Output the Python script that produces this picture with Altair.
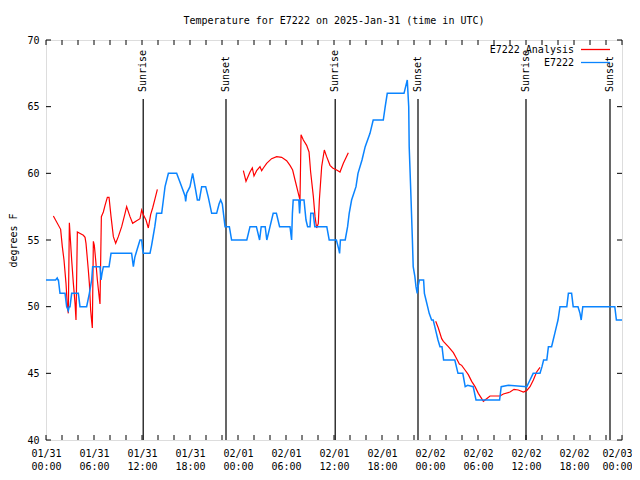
import altair as alt
import pandas as pd

# ---- data ----
blue_h = [0.0, 1.2, 1.4, 1.5, 1.55, 1.75, 2.38, 2.58, 2.79, 2.9, 3.0, 3.21, 4.04, 4.25, 5.08, 5.42, 5.71, 5.83,
          6.75, 6.88, 7.0, 7.17, 7.88, 8.13, 10.7, 10.92, 11.1, 11.4, 11.75, 11.96, 12.08, 12.17, 13.0, 13.2,
          13.4, 13.6, 13.83, 14.46, 14.67, 14.88, 15.3, 16.33, 16.96, 17.38, 17.46, 17.58, 18.0, 18.33, 18.63,
          18.92, 19.17, 19.46, 19.96, 20.29, 20.71, 21.33, 21.63, 21.83, 22.04, 22.38, 22.92, 23.2,
          25.1, 25.3, 25.5, 26.3, 26.7, 26.9, 27.4, 27.6, 28.0, 28.4, 28.8, 29.2, 30.5, 30.7, 30.8, 30.9, 31.6,
          31.7, 31.8, 32.25, 32.5, 32.7, 33.0, 33.1, 33.4, 33.6, 35.1, 35.4, 36.3, 36.6, 36.7, 36.8, 37.4, 37.7,
          37.9, 38.2, 38.75, 39.0, 39.5, 39.9, 40.5, 40.9, 42.16, 42.4, 42.66, 44.75, 45.16, 45.34, 45.4, 45.6,
          45.8, 45.9, 46.1, 46.25, 46.4, 46.5, 46.67, 47.2, 47.3, 47.5, 47.7, 47.9, 48.2, 48.4, 48.6, 48.8,
          49.0, 49.25, 49.5, 49.7, 51.1, 51.5, 52.1, 52.4, 52.7, 53.4, 53.75, 56.7, 56.9, 57.8, 60.1, 60.5,
          60.9, 61.75, 62.0, 62.2, 62.6, 62.8, 63.2, 63.4, 63.6, 63.8, 64.0, 64.25, 65.1, 65.3, 65.7, 65.9,
          66.5, 66.75, 66.9, 67.1, 71.1, 71.3, 72.0]
blue_t = [52, 52, 52.15, 52, 52, 51, 51, 50, 49.7, 50, 50, 51, 51, 50, 50, 51, 52, 53,
          53, 52, 52.5, 53, 53, 54, 54, 53, 53.7, 54.3, 55, 55, 54.3, 54, 54, 54.6,
          55.3, 56, 57, 57, 58, 59, 60, 60, 59, 58.3, 57.9, 58.5, 59, 60, 59,
          58, 58, 59, 59, 58.2, 57, 57, 57.7, 58, 57.7, 56, 56, 55,
          55, 55.5, 56, 56, 55, 56, 56, 55, 56, 57, 57, 56, 56, 55, 57, 58, 58,
          57, 58, 58, 56.5, 56, 56, 57, 57, 56, 56, 55, 55, 54.3, 54, 55, 55, 56,
          57, 58, 59, 60, 61, 62, 63, 64, 64, 65, 66, 66, 67, 65, 62, 58.6,
          55, 53, 52.3, 51.5, 51, 51.5, 52, 52, 51, 50.5, 50, 49.5, 49, 49, 48.5, 48,
          47.5, 47, 47, 46, 46, 45, 45, 44, 44.1, 44, 43, 43, 44, 44.1, 44, 44.5,
          45, 45, 45.5, 46, 46, 47, 47, 47.5, 48, 48.5, 49, 50, 50, 51, 51, 50,
          50, 49.5, 49, 50, 50, 49, 49]

red_h = [0.92, 1.83, 2.04, 2.25, 2.5, 2.67, 2.79, 2.92, 3.21, 3.42, 3.63, 3.75, 3.92, 4.67, 4.88, 5.0,
         5.29, 5.42, 5.58, 5.71, 5.79, 5.92, 6.04, 6.21, 6.42, 6.67, 6.75, 6.92, 7.17, 7.38, 7.67, 7.88,
         8.13, 8.42, 8.71, 9.04, 9.46, 9.88, 10.08, 10.5, 10.83, 11.33, 11.75, 11.96, 12.17, 12.5, 12.79,
         13.08, 13.33, 13.63, 13.92,
         24.67, 25.0, 25.5, 25.79, 26.0, 26.33, 26.75, 26.96, 27.17, 27.58, 28.2, 28.83, 29.46, 30.08, 30.5,
         30.83, 31.13, 31.54, 31.75, 31.88, 32.17, 32.58, 32.88, 33.08, 33.42, 33.63, 33.83, 34.04, 34.17,
         34.46, 34.79, 35.08, 35.5, 35.83, 36.33, 36.75, 37.17, 37.79,
         48.71, 49.04, 49.46, 49.67, 50.29, 50.92, 51.33, 51.67, 51.96, 52.38, 52.79, 53.21, 53.63, 54.04,
         54.46, 54.67, 55.08, 55.5, 56.75, 57.17, 58.0, 58.5, 59.04, 59.67, 60.08, 60.5, 60.92, 61.33, 61.75]
red_t = [56.8, 55.8, 54.5, 53.5, 51.75, 50.0, 49.5, 56.3, 53.5, 51.75, 50.25, 49.0, 55.6, 55.35, 55.2, 54.75,
         52.75, 51.75, 49.75, 48.9, 48.4, 54.9, 54.6, 53.5, 52.0, 50.6, 50.2, 56.75, 57.1, 57.6, 58.2, 58.2,
         56.75, 55.25, 54.75, 55.25, 56.0, 57.0, 57.5, 56.75, 56.25, 56.45, 56.6, 57.25, 56.9, 56.5, 55.9,
         56.9, 57.4, 58.1, 58.8,
         60.2, 59.4, 60.1, 60.4, 59.8, 60.2, 60.5, 60.2, 60.4, 60.75, 61.1, 61.25, 61.2, 60.95, 60.6,
         60.25, 59.5, 58.5, 58.0, 62.9, 62.5, 62.1, 61.6, 60.1, 58.25, 56.75, 55.9, 56.25, 58.0,
         60.5, 61.75, 61.25, 60.6, 60.4, 60.25, 60.1, 60.75, 61.55,
         48.9, 48.4, 47.6, 47.4, 47.0, 46.55, 46.1, 45.7, 45.6, 45.25, 44.9, 44.4, 44.0, 43.5,
         43.1, 42.9, 43.1, 43.3, 43.3, 43.45, 43.6, 43.8, 43.75, 43.6, 43.7, 44.0, 44.5, 45.1, 45.45]
red_seg = [1] * 51 + [2] * 38 + [3] * 29

sun_names = ["Sunrise", "Sunset", "Sunrise", "Sunset", "Sunrise", "Sunset"]
sun_hours = [12.15, 22.5, 36.15, 46.5, 60.0, 70.5]

x_label_hours = [0, 6, 12, 18, 24, 30, 36, 42, 48, 54, 60, 66, 72]
x_label_days = ["01/31", "01/31", "01/31", "01/31", "02/01", "02/01", "02/01", "02/01",
                "02/02", "02/02", "02/02", "02/02", "02/03"]
x_label_times = ["00:00", "06:00", "12:00", "18:00", "00:00", "06:00", "12:00", "18:00",
                 "00:00", "06:00", "12:00", "18:00", "00:00"]
x_tick_hours = list(range(0, 73, 2))
y_ticks = [40, 45, 50, 55, 60, 65, 70]

series_names = ["E7222 Analysis", "E7222"]
series_colors = ["#ff0000", "#0a84ff"]

FONT = "DejaVu Sans Mono"
W, H = 576, 400

blue_df = pd.DataFrame({"h": blue_h, "t": blue_t})
red_df = pd.DataFrame({"h": red_h, "t": red_t, "seg": red_seg})
sun_df = pd.DataFrame({"h": sun_hours, "name": sun_names})
xt_df = pd.DataFrame({"h": x_tick_hours})
yt_df = pd.DataFrame({"t": y_ticks})

label_pairs = ",".join("['%s','%s']" % (d, t) for d, t in zip(x_label_days, x_label_times))
label_expr = "[" + label_pairs + "][round(datum.value / 6)]"
last_h = x_label_hours[-1]

x_scale = alt.Scale(domain=[0, 72], nice=False, zero=False)
y_scale = alt.Scale(domain=[40, 70], nice=False, zero=False)

x_enc = alt.X("h:Q", scale=x_scale, title=None,
              axis=alt.Axis(values=x_label_hours, labelExpr=label_expr, ticks=False, tickSize=0,
                            domain=False, grid=False, labelPadding=8, labelLineHeight=13.5,
                            labelFlush=False, labelOverlap=False, labelBound=False, labelAngle=0,
                            labelAlign={"condition": {"test": "datum.value >= %d" % last_h,
                                                      "value": "right"}, "value": "center"},
                            labelOffset={"condition": {"test": "datum.value >= %d" % last_h,
                                                       "value": 10}, "value": 0},
                            labelFont=FONT, labelFontSize=10, labelColor="black"))
y_enc = alt.Y("t:Q", scale=y_scale, title="degrees F",
              axis=alt.Axis(values=y_ticks, ticks=False, tickSize=0, domain=False, grid=False,
                            labelPadding=7, labelFont=FONT, labelFontSize=10, labelColor="black",
                            titleFont=FONT, titleFontSize=10, titleFontWeight="normal",
                            titleColor="black", titlePadding=8, labelFlush=False))

blue_line = alt.Chart(blue_df).mark_line(color=series_colors[1], strokeWidth=1.5).encode(
    x=x_enc, y=y_enc, order="h:Q")
red_line = alt.Chart(red_df).mark_line(color=series_colors[0], strokeWidth=1.2).encode(
    x=x_enc, y=y_enc, detail="seg:N", order="h:Q")

sun_rules = alt.Chart(sun_df).mark_rule(color="black", strokeWidth=1.2).encode(
    x=x_enc, y=alt.value(59), y2=alt.value(H))
sun_text = alt.Chart(sun_df).mark_text(angle=270, align="left", baseline="middle",
                                       font=FONT, fontSize=10, color="black").encode(
    x=x_enc, y=alt.value(52), text="name:N")

tick_bottom = alt.Chart(xt_df).mark_rule(color="black", strokeWidth=1).encode(
    x=x_enc, y=alt.value(H), y2=alt.value(H - 5))
tick_top = alt.Chart(xt_df).mark_rule(color="black", strokeWidth=1).encode(
    x=x_enc, y=alt.value(0), y2=alt.value(5))
tick_left = alt.Chart(yt_df).mark_rule(color="black", strokeWidth=1).encode(
    y=y_enc, x=alt.value(0), x2=alt.value(5))
tick_right = alt.Chart(yt_df).mark_rule(color="black", strokeWidth=1).encode(
    y=y_enc, x=alt.value(W), x2=alt.value(W - 5))

leg_layers = []
for i, (nm, col) in enumerate(zip(series_names, series_colors)):
    ldf = pd.DataFrame({"name": [nm]})
    yy = 9.5 + 13 * i
    leg_layers.append(alt.Chart(ldf).mark_text(align="right", baseline="middle", font=FONT,
                                               fontSize=10, color="black").encode(
        x=alt.value(528), y=alt.value(yy), text="name:N"))
    leg_layers.append(alt.Chart(ldf).mark_rule(color=col, strokeWidth=1.3).encode(
        x=alt.value(535), x2=alt.value(564), y=alt.value(yy)))

chart = alt.layer(sun_rules, sun_text, red_line, blue_line, tick_bottom, tick_top, tick_left,
                  tick_right, *leg_layers).properties(
    width=W, height=H,
    title=alt.TitleParams("Temperature for E7222 on 2025-Jan-31 (time in UTC)", font=FONT,
                          fontSize=10, fontWeight="normal", color="black", anchor="middle",
                          offset=9),
    autosize=alt.AutoSizeParams(type="none"),
    padding={"left": 38, "top": 32, "right": 10, "bottom": 32},
).configure_view(stroke="black", strokeWidth=1).configure(background="white")

chart.save("out.html", embed_options={"renderer": "svg", "actions": False})
